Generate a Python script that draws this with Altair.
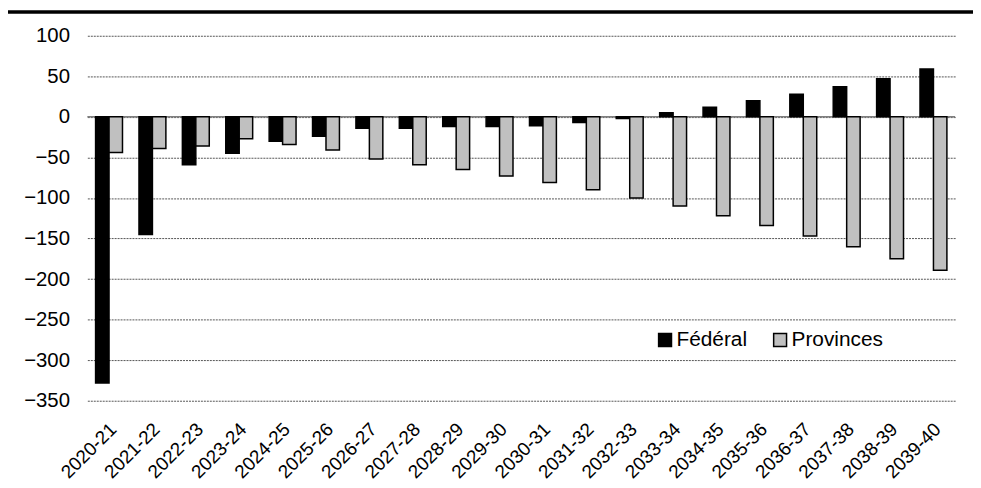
import altair as alt
import pandas as pd

years = ["2020-21", "2021-22", "2022-23", "2023-24", "2024-25", "2025-26", "2026-27",
         "2027-28", "2028-29", "2029-30", "2030-31", "2031-32", "2032-33", "2033-34",
         "2034-35", "2035-36", "2036-37", "2037-38", "2038-39", "2039-40"]
federal = [-328, -145, -59, -45, -30, -24, -14, -14, -12, -12, -11, -7, -2, 5,
           12, 20, 28, 37, 47, 59]
provinces = [-44, -39, -36, -27, -34, -41, -52, -59, -65, -73, -81, -90, -100, -110,
             -122, -134, -147, -160, -175, -189]
series = ["Fédéral", "Provinces"]
colors = ["#000000", "#c0c0c0"]
y_ticks = [-350, -300, -250, -200, -150, -100, -50, 0, 50, 100]

rows = []
for yr, f, p in zip(years, federal, provinces):
    rows.append({"year": yr, "series": series[0], "value": f})
    rows.append({"year": yr, "series": series[1], "value": p})
df = pd.DataFrame(rows)

W, H = 875, 368
FONT = "Liberation Sans"

zero = alt.Chart(pd.DataFrame({"z": [0]})).mark_rule(color="#808080", strokeWidth=1.5).encode(
    y=alt.Y("z:Q")
)

bars = alt.Chart(df).mark_bar(stroke="black", strokeWidth=1.5).encode(
    x=alt.X("year:N", sort=years, title=None,
            scale=alt.Scale(paddingInner=0.38, paddingOuter=0.19),
            axis=alt.Axis(labelAngle=-45, labelFontSize=19, labelFont=FONT,
                          labelColor="black", ticks=False, domain=False, grid=False,
                          labelPadding=19, labelOffset=-2)),
    xOffset=alt.XOffset("series:N", sort=series),
    y=alt.Y("value:Q", title=None,
            scale=alt.Scale(domain=[-350, 100], nice=False, zero=False),
            axis=alt.Axis(values=y_ticks, labelFontSize=20.5, labelFont=FONT,
                          labelColor="black", grid=True, gridDash=[2, 1],
                          gridColor="#555555", gridWidth=1, domain=False, ticks=False,
                          labelPadding=18)),
    fill=alt.Fill("series:N", sort=series,
                  scale=alt.Scale(domain=series, range=colors),
                  legend=alt.Legend(title=None, orient="none", legendX=572, legendY=296,
                                    direction="horizontal", symbolType="square",
                                    symbolSize=169, labelFontSize=21, labelFont=FONT,
                                    labelColor="black", symbolStrokeColor="black",
                                    symbolStrokeWidth=1.5, columnPadding=22,
                                    labelOffset=1, padding=0)),
)

topline = alt.Chart(pd.DataFrame({"a": [0]})).mark_rule(color="black", strokeWidth=3.5).encode(
    x=alt.value(-85), x2=alt.value(W + 18), y=alt.value(-24)
)

chart = alt.layer(zero, bars, topline).properties(
    width=W, height=H,
    padding={"left": 80, "top": 26, "right": 18, "bottom": 86},
    autosize=alt.AutoSizeParams(type="none"),
).configure_view(stroke=None)

chart.save("out.html", embed_options={"renderer": "svg", "actions": False})
